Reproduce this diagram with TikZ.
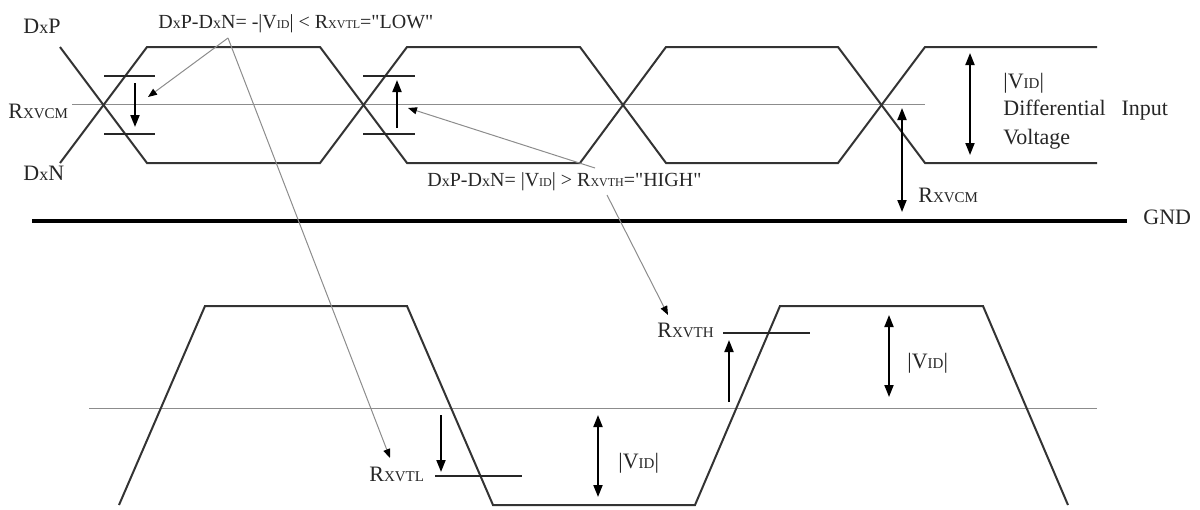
\documentclass[tikz,border=0pt]{standalone}
\usepackage{fontspec}
\setmainfont{Liberation Serif}[Ligatures=TeXOff]
\usetikzlibrary{arrows.meta}
\newcommand{\lowcap}[1]{{\fontsize{7.5}{8}\selectfont #1}}
\newcommand{\lowx}[1]{{\fontsize{9}{10}\selectfont #1}}
\newcommand{\notecap}[1]{{\fontsize{6}{7}\selectfont #1}}
\newcommand{\notex}[1]{{\fontsize{8}{9}\selectfont #1}}

\begin{document}
\begin{tikzpicture}[x=0.5pt,y=-0.5pt,
		wave/.style={line width=1pt,draw=black!80},
		midline/.style={line width=0.5pt,draw=black!45},
		level/.style={line width=0.8pt,draw=black!85},
		dim/.style={line width=0.9pt,-{Triangle[length=6pt,width=4.5pt]}},
		dimboth/.style={line width=0.9pt,{Triangle[length=6pt,width=4.5pt]}-{Triangle[length=6pt,width=4.5pt]}},
		pointer/.style={line width=0.5pt,draw=black!45,-{Triangle[length=4.5pt,width=3.5pt,fill=black,color=black]}},
		lbl/.style={anchor=base west,inner sep=0pt,font=\fontsize{11}{12}\selectfont,text=black!85},
		note/.style={lbl,font=\fontsize{10}{12}\selectfont}]
	\useasboundingbox (0,0) rectangle (1200,509);
	% differential pair
	\draw[midline] (72,104) -- (925,104);
	\draw[wave] (60,47) -- (147,163) -- (320,163) -- (407,47) -- (580,47) -- (666,163) -- (838,163) -- (925,47) -- (1097,47);
	\draw[wave] (60,163) -- (147,47) -- (320,47) -- (407,163) -- (580,163) -- (666,47) -- (838,47) -- (925,163) -- (1097,163);
	\draw[level] (104,76) -- (155,76);
	\draw[level] (104,134) -- (155,134);
	\draw[level] (363,76) -- (415,76);
	\draw[level] (363,134) -- (415,134);
	\coordinate (lowtop) at (135,83);
	\coordinate (lowbot) at (135,127);
	\coordinate (hightop) at (397,80);
	\coordinate (highbot) at (397,128);
	\draw[dim] (lowtop) -- (lowbot);
	\draw[dim] (highbot) -- (hightop);
	\coordinate (vidtopa) at (970,53);
	\coordinate (vidtopb) at (970,155);
	\draw[dimboth] (vidtopa) -- (vidtopb);
	\coordinate (vcma) at (902,108);
	\coordinate (vcmb) at (902,212);
	\draw[dimboth] (vcma) -- (vcmb);
	\node[lbl] (dxp) at (23,33) {D\lowx{x}P};
	\node[lbl] (dxn) at (23,180) {D\lowx{x}N};
	\node[lbl] (vcml) at (8,118) {R\lowcap{XVCM}};
	\node[lbl] (vidtop) at (1003,88) {|V\lowcap{ID}|};
	\node[lbl] (diff) at (1003,115) {Differential\hspace{8pt}Input};
	\node[lbl] (volt) at (1003,144) {Voltage};
	\node[lbl] (vcmr) at (918,202) {R\lowcap{XVCM}};
	% ground
	\draw[line width=2pt] (32,221) -- (1127,221);
	\node[lbl] (gnd) at (1143,224) {GND};
	% receiver output
	\draw[midline] (89,408) -- (1097,408);
	\draw[wave] (119,505) -- (205,306) -- (407,306) -- (493,505) -- (695,505) -- (780,306) -- (983,306) -- (1068,505);
	\draw[level] (435,476) -- (522,476);
	\draw[level] (723,333) -- (810,333);
	\coordinate (vtla) at (441,415);
	\coordinate (vtlb) at (441,472);
	\draw[dim] (vtla) -- (vtlb);
	\coordinate (vtha) at (729,402);
	\coordinate (vthb) at (729,340);
	\draw[dim] (vtha) -- (vthb);
	\coordinate (vidloa) at (598,415);
	\coordinate (vidlob) at (598,497);
	\draw[dimboth] (vidloa) -- (vidlob);
	\coordinate (vidhia) at (889,315);
	\coordinate (vidhib) at (889,397);
	\draw[dimboth] (vidhia) -- (vidhib);
	\node[lbl] (vtl) at (369,481) {R\lowcap{XVTL}};
	\node[lbl] (vth) at (657,337) {R\lowcap{XVTH}};
	\node[lbl] (vidlo) at (618,468) {|V\lowcap{ID}|};
	\node[lbl] (vidhi) at (907,368) {|V\lowcap{ID}|};
	% notes
	\node[note] (lowlbl) at (158,28) {D\notex{x}P-D\notex{x}N= -|V\notecap{ID}| < R\notecap{XVTL}="LOW"};
	\node[note] (highlbl) at (427,186) {D\notex{x}P-D\notex{x}N= |V\notecap{ID}| > R\notecap{XVTH}="HIGH"};
	\coordinate (lowfrom) at (228,38);
	\coordinate (lowat) at (148,97);
	\coordinate (vtlat) at (390,458);
	\draw[pointer] (lowfrom) -- (lowat);
	\draw[pointer] (lowfrom) -- (vtlat);
	\coordinate (highfrom) at (595,168);
	\coordinate (highat) at (408,108);
	\coordinate (highdown) at (607,195);
	\coordinate (vthat) at (668,315);
	\draw[pointer] (highfrom) -- (highat);
	\draw[pointer] (highdown) -- (vthat);
\end{tikzpicture}
\end{document}
